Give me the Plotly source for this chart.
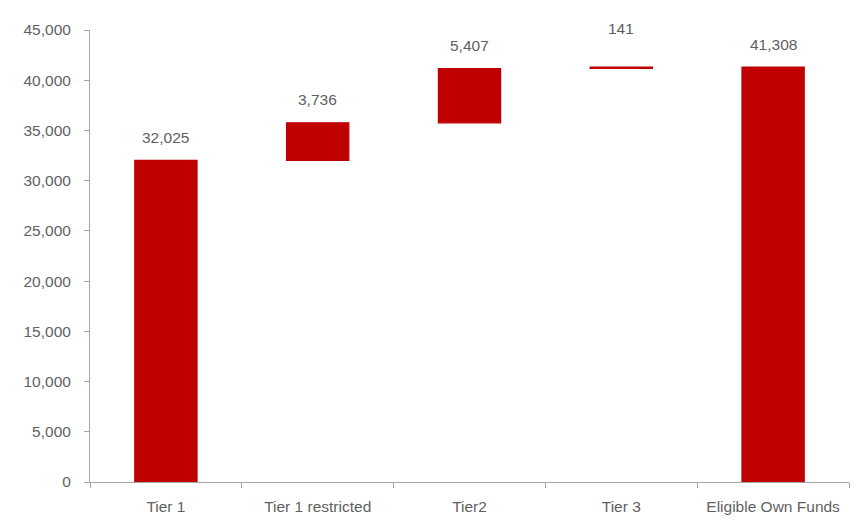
import plotly.graph_objects as go

# Eligible own funds build-up by tier
categories = ["Tier 1", "Tier 1 restricted", "Tier2", "Tier 3", "Eligible Own Funds"]
values = [32025, 3736, 5407, 141, 41308]
measures = ["relative", "relative", "relative", "relative", "absolute"]
labels = ["32,025", "3,736", "5,407", "141", "41,308"]
y_tickvals = [0, 5000, 10000, 15000, 20000, 25000, 30000, 35000, 40000, 45000]

RED = "#C00000"
GREY_TEXT = "#5F5F5F"
AXIS = "#A6A6A6"
FONT_SIZE = 15.5

fig = go.Figure()
fig.add_trace(go.Waterfall(
    x=categories,
    y=values,
    measure=measures,
    width=0.41,
    increasing=dict(marker=dict(color=RED, line=dict(color=RED, width=1.2))),
    decreasing=dict(marker=dict(color=RED, line=dict(color=RED, width=1.2))),
    totals=dict(marker=dict(color=RED, line=dict(color=RED, width=1.2))),
    connector=dict(visible=False),
    hoverinfo="skip",
))

# value labels above the top of each bar
running = 0
for cat, v, m, lab in zip(categories, values, measures, labels):
    top = v if m == "absolute" else running + v
    if m == "relative":
        running += v
    shift = 39 if v < 1000 else 23
    fig.add_annotation(x=cat, y=top, text=lab, showarrow=False,
                       yshift=shift, font=dict(size=FONT_SIZE, color=GREY_TEXT))

fig.update_layout(
    width=864, height=524,
    margin=dict(l=90, r=15, t=30, b=42),
    paper_bgcolor="white", plot_bgcolor="white",
    font=dict(family="Liberation Sans, Arial, sans-serif", size=FONT_SIZE, color=GREY_TEXT),
    showlegend=False,
)
fig.update_xaxes(
    showline=True, linecolor=AXIS, linewidth=1,
    ticks="outside", tickson="boundaries", ticklen=5, tickcolor=AXIS,
    showgrid=False, tickfont=dict(size=FONT_SIZE, color=GREY_TEXT),
    ticklabelstandoff=10, automargin=False,
)
fig.update_yaxes(
    range=[0, 45000], tickvals=y_tickvals, tickformat=",d",
    showline=True, linecolor=AXIS, linewidth=1,
    ticks="outside", ticklen=5, tickcolor=AXIS,
    showgrid=False, zeroline=False, tickfont=dict(size=FONT_SIZE, color=GREY_TEXT),
    ticklabelstandoff=10, automargin=False,
)

fig.write_html("out.html")
